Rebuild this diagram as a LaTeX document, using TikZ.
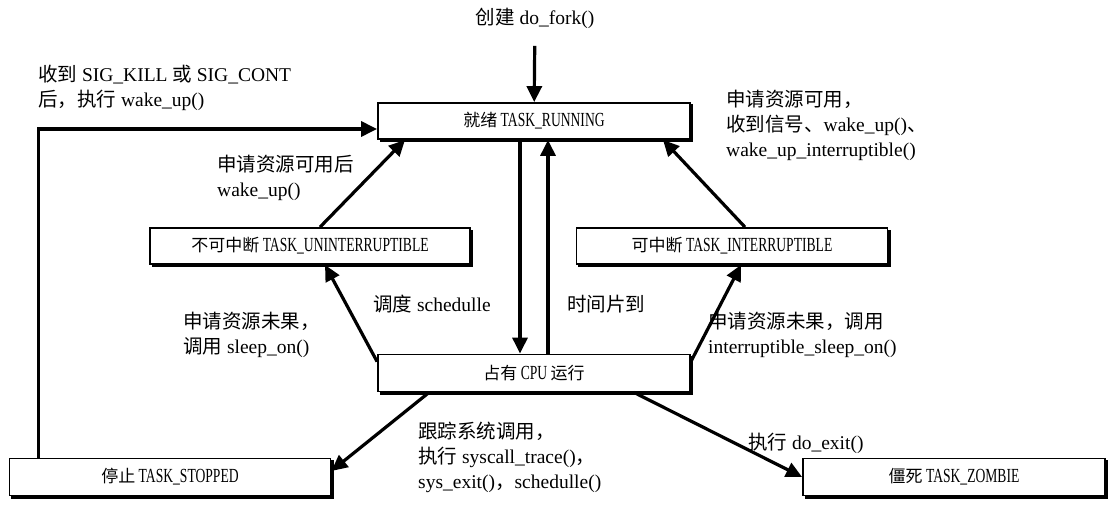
\documentclass[tikz,border=0pt]{standalone}
\usepackage{fontspec}
\setmainfont{Liberation Serif}
\newfontfamily\cjk{Noto Sans CJK SC}
\newfontfamily\narrowserif[FakeStretch=0.68]{Liberation Serif}
\newcommand{\zh}[1]{{\cjk #1}}
\newcommand{\boxzh}[1]{{\fontsize{17}{20}\selectfont\cjk #1}}
\usetikzlibrary{arrows.meta,positioning,shadows}
\tikzset{%
  taskbox/.style={draw, line width=1.8pt, fill=white, minimum height=36pt, inner sep=0pt,
    font=\fontsize{20}{24}\selectfont\narrowserif,
    drop shadow={shadow xshift=2.4pt, shadow yshift=-2.4pt, opacity=1, fill=black, draw=black, line width=1.8pt}},
  arrow/.style={-{Triangle[length=16pt,width=15pt]}, line width=3.2pt}%
}

\begin{document}
\begin{tikzpicture}[
    x=1pt, y=-1pt,
    font=\fontsize{19.5}{25}\selectfont,
    lbl/.style={
        align=left,
        anchor=north west,
        inner sep=0pt
    }
]
\useasboundingbox (0,0) rectangle (1116,505);

% Task states
\node[taskbox, minimum width=312pt] (running) at (534,121)
{\boxzh{就绪} TASK\_RUNNING};

\node[taskbox, minimum width=320pt] (uninter) at (310,246)
{\boxzh{不可中断} TASK\_UNINTERRUPTIBLE};

\node[taskbox, minimum width=311pt] (inter) at (732,246)
{\boxzh{可中断} TASK\_INTERRUPTIBLE};

\node[taskbox, minimum width=312pt, minimum height=37pt] (cpu) at (534,373)
{\boxzh{占有} CPU \boxzh{运行}};

\node[taskbox, minimum width=321pt, minimum height=37pt] (stopped) at (170,477)
{\boxzh{停止} TASK\_STOPPED};

\node[taskbox, minimum width=302pt, minimum height=37pt] (zombie) at (954,477)
{\boxzh{僵死} TASK\_ZOMBIE};

% Transition labels
\node (fork) at (535,18) {\zh{创建} do\_fork()};

\node[lbl] (killnote) at (38,65)
{\zh{收到} SIG\_KILL \zh{或} SIG\_CONT\\
\zh{后，执行} wake\_up()};

\node[lbl] (wakenote) at (217,155)
{\zh{申请资源可用后}\\
wake\_up()};

\node[lbl] (signote) at (726,90)
{\zh{申请资源可用，}\\
\zh{收到信号、}wake\_up()\zh{、}\\
wake\_up\_interruptible()};

\node[lbl] (schednote) at (373,295) {\zh{调度} schedulle};
\node[lbl] (slicenote) at (567,295) {\zh{时间片到}};

\node[lbl] (sleepnote) at (183,312)
{\zh{申请资源未果，}\\
\zh{调用} sleep\_on()};

\node[lbl] (isleepnote) at (708,312)
{\zh{申请资源未果，调用}\\
interruptible\_sleep\_on()};

\node[lbl] (tracenote) at (418,422)
{\zh{跟踪系统调用，}\\
\zh{执行} syscall\_trace()\zh{，}\\
sys\_exit()\zh{，}schedulle()};

\node[lbl] (exitnote) at (748,433) {\zh{执行} do\_exit()};

% Transitions
\draw[arrow, shorten <=14pt] (fork) -- (running);
\draw[arrow] ([xshift=-14pt]running.south) -- ([xshift=-14pt]cpu.north);
\draw[arrow] ([xshift=14pt]cpu.north) -- ([xshift=14pt]running.south);
\draw[arrow] ([xshift=10pt]uninter.north) -- ([xshift=-129pt]running.south);
\draw[arrow] ([xshift=13pt]inter.north) -- ([xshift=129pt]running.south);
\draw[arrow] ([yshift=-8pt]cpu.north west) -- ([xshift=15pt]uninter.south);
\draw[arrow] ([yshift=-8pt]cpu.north east) -- ([xshift=9pt]inter.south);
\draw[arrow] ([xshift=52pt]cpu.south west) -- ([yshift=6pt]stopped.east);
\draw[arrow] ([xshift=-57pt]cpu.south east) -- (zombie.west);
\draw[arrow] ([xshift=30pt]stopped.north west) |- ([yshift=-8pt]running.west);

\end{tikzpicture}
\end{document}
